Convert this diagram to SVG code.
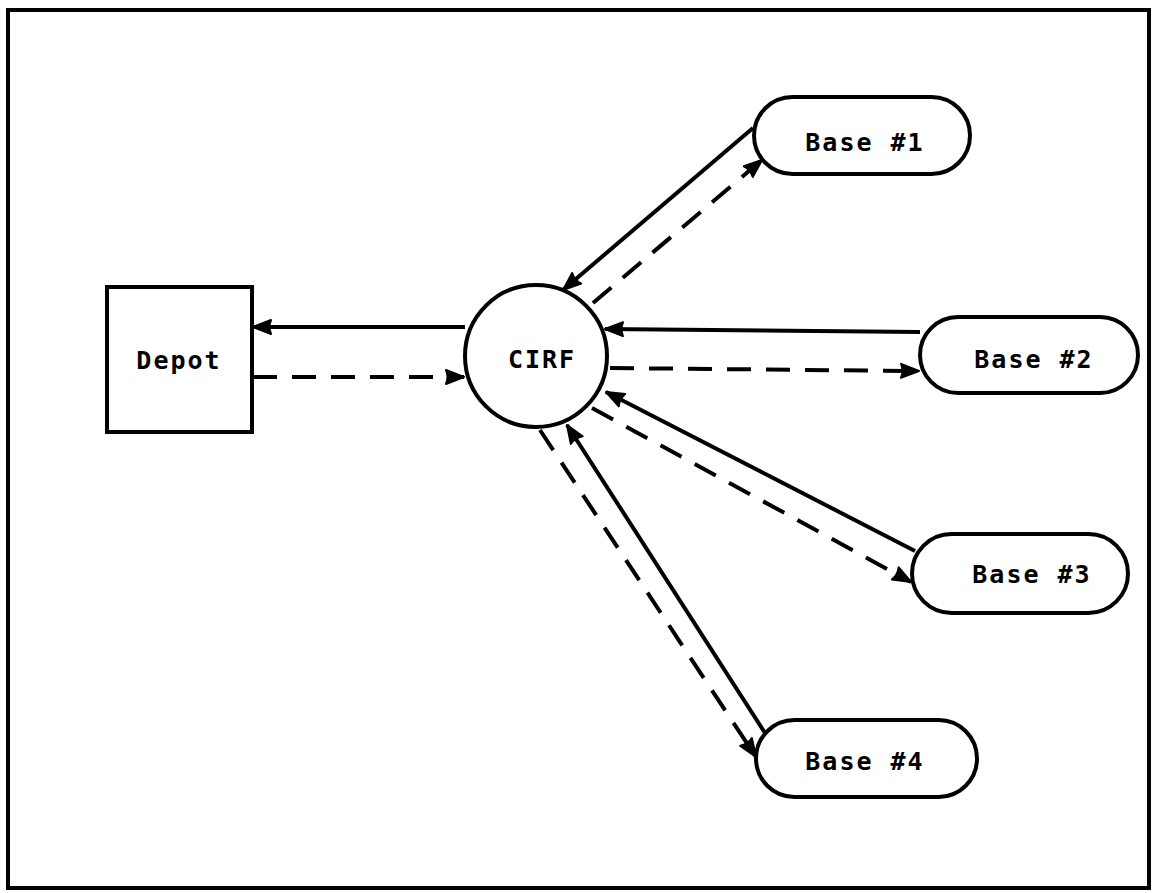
<svg xmlns="http://www.w3.org/2000/svg" width="1153" height="893" viewBox="0 0 1153 893">
  <style>
    .shape { fill: #fff; stroke: #000; stroke-width: 4; }
    .label { font-family: "DejaVu Sans Mono", "Liberation Mono", monospace; font-size: 25px; font-weight: bold; letter-spacing: 2px; fill: #000; text-anchor: middle; }
    .flow { fill: none; stroke: #000; stroke-width: 4; marker-end: url(#head); }
    .dashed { stroke-dasharray: 24 15; }
  </style>
  <defs>
    <marker id="head" markerUnits="userSpaceOnUse" markerWidth="22" markerHeight="18" refX="19" refY="9" orient="auto">
      <path d="M1,2 L19,9 L1,16 Q4,9 1,2 z" fill="#000" stroke="#000" stroke-width="2" stroke-linejoin="round"/>
    </marker>
  </defs>

  <rect x="8" y="10" width="1141" height="878" fill="#fff" stroke="#000" stroke-width="4"/>

  <g id="connectors">
    <!-- CIRF <-> Depot -->
    <line class="flow" x1="465" y1="327" x2="253" y2="327"/>
    <line class="flow dashed" x1="253" y1="377" x2="464" y2="377"/>
    <!-- Base #1 <-> CIRF -->
    <line class="flow" x1="753" y1="128" x2="563" y2="290"/>
    <line class="flow dashed" x1="593" y1="303" x2="762" y2="160"/>
    <!-- Base #2 <-> CIRF -->
    <line class="flow" x1="920" y1="332" x2="605" y2="329"/>
    <line class="flow dashed" x1="610" y1="368" x2="919" y2="371"/>
    <!-- Base #3 <-> CIRF -->
    <line class="flow" x1="915" y1="551" x2="606" y2="392"/>
    <line class="flow dashed" x1="592" y1="408" x2="911" y2="582"/>
    <!-- Base #4 <-> CIRF -->
    <line class="flow" x1="765" y1="733" x2="567" y2="425"/>
    <line class="flow dashed" x1="540" y1="430" x2="756" y2="757"/>
  </g>

  <g id="depot">
    <rect class="shape" x="107" y="287" width="145" height="145"/>
    <text class="label" x="179" y="369">Depot</text>
  </g>

  <g id="cirf">
    <circle class="shape" cx="536" cy="356" r="71"/>
    <text class="label" x="542" y="368">CIRF</text>
  </g>

  <g id="base1">
    <rect class="shape" x="754" y="97" width="216" height="77" rx="38.5"/>
    <text class="label" x="865" y="151">Base #1</text>
  </g>

  <g id="base2">
    <rect class="shape" x="920" y="317" width="218" height="76" rx="38"/>
    <text class="label" x="1034" y="368">Base #2</text>
  </g>

  <g id="base3">
    <rect class="shape" x="912" y="534" width="216" height="79" rx="39.5"/>
    <text class="label" x="1032" y="583">Base #3</text>
  </g>

  <g id="base4">
    <rect class="shape" x="756" y="720" width="221" height="77" rx="38.5"/>
    <text class="label" x="865" y="770">Base #4</text>
  </g>
</svg>
